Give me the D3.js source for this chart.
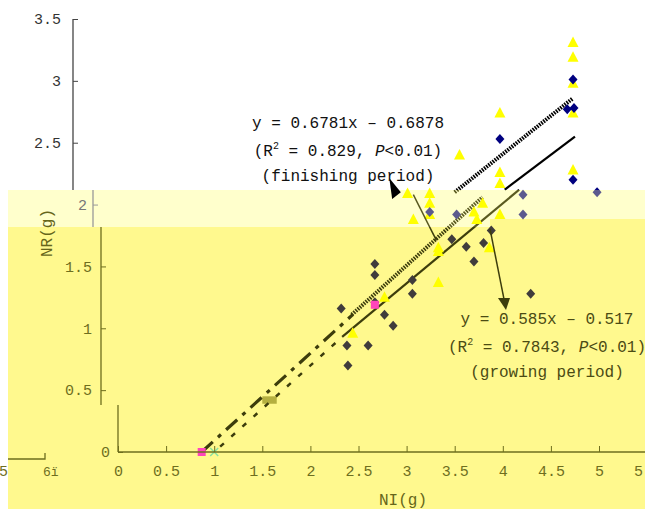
<!DOCTYPE html>
<html><head><meta charset="utf-8">
<script src="https://cdn.jsdelivr.net/npm/d3@7"></script>
<style>body{margin:0;background:#fff}svg{display:block}text{font-family:"Liberation Mono",monospace}</style>
</head><body><svg id="c" width="645" height="509"></svg>
<script>
// ---------- data ----------
const xTicks=[0,0.5,1,1.5,2,2.5,3,3.5,4,4.5,5,5.5];
const yTicksTop=[2.5,3,3.5];
const yTicksBand=[2];
const yTicksLow=[0.5,1,1.5];
const yTicksZero=[0];
const diamondPts=[[3.97,2.53],[4.73,3.01],[4.67,2.77],[4.74,2.78],[4.73,2.20],
 [4.98,2.10],[4.21,2.08],[4.21,1.92],[3.24,1.94],[3.52,1.92],
 [3.88,1.79],[3.47,1.72],[3.62,1.66],[3.80,1.69],[3.70,1.54],[3.06,1.39],[3.06,1.28],[4.29,1.28],
 [2.67,1.52],[2.67,1.43],[2.32,1.16],[2.77,1.11],[2.86,1.02],[2.38,0.86],[2.60,0.86],[2.39,0.70],[2.67,1.21]];
const trianglePts=[[4.73,3.31],[4.73,3.19],[4.73,2.98],[4.73,2.74],[4.73,2.28],[3.97,2.74],[3.97,2.26],[3.97,2.17],[3.55,2.40],[3.01,2.09],
 [3.24,2.09],[3.24,2.01],[3.24,1.92],[3.07,1.88],[3.79,2.01],[3.70,1.94],[3.73,1.88],[3.97,1.92],
 [3.33,1.65],[3.33,1.62],[3.86,1.65],[3.33,1.37],[2.77,1.25],[2.44,0.96]];
const magentaPts=[[0.87,0],[2.67,1.19]];
const crossPts=[[1.0,0]];
const artifactRect=[[1.50,0.45],[1.65,0.39]];
const solidTop=[[4.02,2.12],[4.75,2.55]];
const solidLow=[[2.33,0.93],[4.17,2.12]];
const hatchTop=[[3.50,2.10],[4.73,2.86]];
const hatchLow=[[2.43,1.11],[3.79,2.06]];
const dashMain=[[0.87,0],[2.44,1.11]];
const dashSecond=[[1.0,0],[2.33,0.93]];
const arrowFinLine=[[3.07,2.08],[3.31,1.71]];
const arrowFinHead=[[2.82,2.215],[2.94,2.10],[2.85,2.045]];
const arrowGrowLine=[[3.867,1.803],[4.012,1.237]];
const arrowGrowHead=[[4.033,1.148],[3.95,1.245],[4.075,1.245]];
const finishLabel={eq:"y = 0.6781x – 0.6878",r2:"0.829",p:"P",period:"(finishing period)"};
const growLabel={eq:"y = 0.585x – 0.517",r2:"0.7843",p:"P",period:"(growing period)"};

// ---------- scales ----------
const svg=d3.select("#c");
const x=d3.scaleLinear().domain([0,5]).range([118,599]);
const y=d3.scaleLinear().domain([0,3.5]).range([452,19]);
const line=d3.line().x(d=>x(d[0])).y(d=>y(d[1]));

const regions=[
 {id:"rTop",rects:[[0,0,645,190],[0,0,8,509]],bg:"#ffffff",
  pal:{dia:"#000080",tri:"#ffff00",ln:"#000000",mag:"#ff33cc",cr:"#66dd99",art:"#b5b040"}},
 {id:"rBand",rects:[[8,190,482,37],[490,190,155,29]],bg:"#ffffcc",
  pal:{dia:"#5c5a8e",tri:"#ffff00",ln:"#5a5a20",mag:"#ff66cc",cr:"#88dd99",art:"#c8c070"}},
 {id:"rLow",rects:[[8,227,482,282],[490,219,155,290]],bg:"#fff98e",
  pal:{dia:"#403c3c",tri:"#ffff00",ln:"#3d3d0c",mag:"#ff44bb",cr:"#88e0a0",art:"#b5b040"}}
];
const defs=svg.append("defs");
regions.forEach(r=>{
  const cp=defs.append("clipPath").attr("id",r.id);
  r.rects.forEach(a=>cp.append("rect").attr("x",a[0]).attr("y",a[1]).attr("width",a[2]).attr("height",a[3]));
});

const diamond=(cx,cy)=>`M${cx},${cy-5}L${cx+4.5},${cy}L${cx},${cy+5}L${cx-4.5},${cy}Z`;
const tri=(cx,cy)=>`M${cx},${cy-6}L${cx+5.5},${cy+4.5}L${cx-5.5},${cy+4.5}Z`;

regions.forEach(r=>{
  const g=svg.append("g").attr("clip-path",`url(#${r.id})`);
  const p=r.pal;
  g.append("rect").attr("width",645).attr("height",509).attr("fill",r.bg);
  // artifact
  g.append("rect").attr("x",x(artifactRect[0][0])).attr("y",y(artifactRect[0][1]))
   .attr("width",x(artifactRect[1][0])-x(artifactRect[0][0]))
   .attr("height",y(artifactRect[1][1])-y(artifactRect[0][1])).attr("fill",p.art);
  // lines
  [solidTop,solidLow].forEach(l=>g.append("path").attr("d",line(l)).attr("stroke",p.ln).attr("stroke-width",2.2).attr("fill","none"));
  [hatchTop,hatchLow].forEach(l=>g.append("path").attr("d",line(l)).attr("stroke",p.ln).attr("stroke-width",4).attr("stroke-dasharray","1.6 1.1").attr("fill","none"));
  g.append("path").attr("d",line(dashMain)).attr("stroke",p.ln).attr("stroke-width",3.2).attr("stroke-dasharray","15 7 4 7").attr("fill","none");
  g.append("path").attr("d",line(dashSecond)).attr("stroke",p.ln).attr("stroke-width",2.5).attr("stroke-dasharray","5 10").attr("stroke-dashoffset",-8).attr("fill","none");
  // points
  g.selectAll(null).data(trianglePts).join("path").attr("d",d=>tri(x(d[0]),y(d[1]))).attr("fill",p.tri);
  g.selectAll(null).data(diamondPts).join("path").attr("d",d=>diamond(x(d[0]),y(d[1]))).attr("fill",p.dia);
  g.selectAll(null).data(magentaPts).join("rect").attr("x",d=>x(d[0])-4).attr("y",d=>y(d[1])-4).attr("width",8).attr("height",8).attr("fill",p.mag);
  g.selectAll(null).data(crossPts).join("path").attr("d",d=>{const cx=x(d[0]),cy=y(d[1]);return `M${cx-4},${cy-4}L${cx+4},${cy+4}M${cx-4},${cy+4}L${cx+4},${cy-4}`;})
   .attr("stroke",p.cr).attr("stroke-width",1.5);
  // arrows
  g.append("path").attr("d",line(arrowFinLine)).attr("stroke",p.ln).attr("stroke-width",1.5);
  g.append("path").attr("d",line(arrowGrowLine)).attr("stroke",p.ln).attr("stroke-width",1.5);
  g.append("path").attr("d",line(arrowGrowHead)+"Z").attr("fill",p.ln);
});
// finishing arrow head (black)
svg.append("path").attr("d",line(arrowFinHead)+"Z").attr("fill","#000");

// ---------- axes ----------
const fmt=d3.format("");
function yAxis(xpos,ticks,pad,y0,y1,col,tcol){
  const g=svg.append("g").attr("transform",`translate(${xpos},0)`)
    .call(d3.axisLeft(y).tickValues(ticks).tickSizeInner(-5).tickSizeOuter(0).tickPadding(pad).tickFormat(fmt));
  g.select(".domain").remove();
  g.selectAll(".tick line").attr("stroke",col);
  g.selectAll("text").attr("fill",tcol).attr("font-size",15).attr("font-family","Liberation Mono");
  g.append("line").attr("x1",0).attr("x2",0).attr("y1",y0).attr("y2",y1).attr("stroke",col).attr("stroke-width",1.3);
}
yAxis(73,yTicksTop,12,y(3.5),190,"#444","#333");
yAxis(93,yTicksBand,6,190,227,"#999","#777");
yAxis(101,yTicksLow,9,227,405,"#6e6e1e","#6e6e1e");
yAxis(118,yTicksZero,8,405,452,"#6e6e1e","#6e6e1e");

const xg=svg.append("g").attr("transform","translate(0,452)")
  .call(d3.axisBottom(x).tickValues(xTicks).tickSizeInner(-6).tickSizeOuter(0).tickPadding(13).tickFormat(fmt));
xg.select(".domain").remove();
xg.selectAll(".tick line").attr("stroke","#6e6e1e");
xg.selectAll("text").attr("fill","#6e6e1e").attr("font-size",15).attr("font-family","Liberation Mono");
xg.append("line").attr("x1",x(0)).attr("x2",645).attr("y1",0).attr("y2",0).attr("stroke","#6e6e1e").attr("stroke-width",1.3);

// leftover fragment bottom-left
svg.append("path").attr("d","M8,459H45V453").attr("stroke","#6e6e1e").attr("fill","none").attr("stroke-width",1.3);
svg.append("text").attr("x",8).attr("y",476).attr("text-anchor","end").attr("font-size",15).attr("fill","#6e6e1e").text("5");
svg.append("text").attr("x",43).attr("y",476).attr("font-size",13).attr("fill","#6e6e1e").text("6ï");

// axis titles
svg.append("text").attr("transform","translate(52,233) rotate(-90)").attr("text-anchor","middle")
  .attr("font-size",16).attr("fill","#66661a").text("NR(g)");
svg.append("text").attr("x",403).attr("y",505).attr("text-anchor","middle")
  .attr("font-size",16).attr("fill","#66661a").text("NI(g)");

// equations
function eqBlock(cx,cy,lab,col){
  const t=svg.append("g").attr("fill",col).attr("font-size",16);
  t.append("text").attr("x",cx).attr("y",cy).attr("text-anchor","middle").text(lab.eq);
  const t2=t.append("text").attr("x",cx).attr("y",cy+28).attr("text-anchor","middle");
  t2.append("tspan").text("(R");
  t2.append("tspan").attr("font-size",10).attr("dy",-7).text("2");
  t2.append("tspan").attr("dy",7).text(" = "+lab.r2+", ");
  t2.append("tspan").attr("font-style","italic").text(lab.p);
  t2.append("tspan").text("<0.01)");
  t.append("text").attr("x",cx).attr("y",cy+53).attr("text-anchor","middle").text(lab.period);
}
eqBlock(348,128,finishLabel,"#111");
eqBlock(547,324,growLabel,"#4b4b14");
</script></body></html>
